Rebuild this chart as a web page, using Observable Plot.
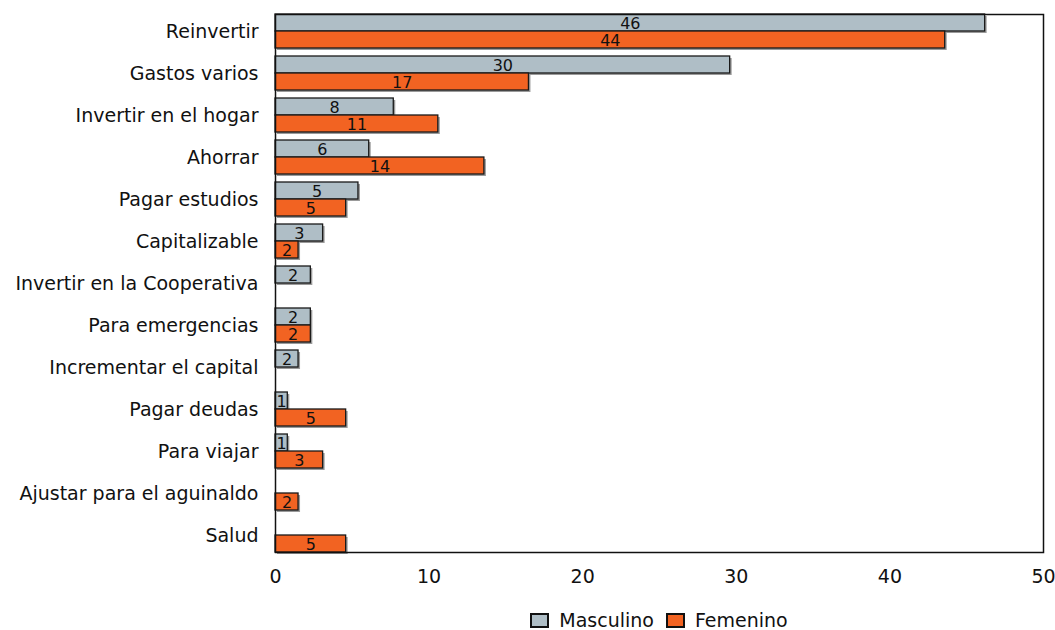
<!DOCTYPE html>
<html>
<head>
<meta charset="utf-8">
<script src="https://cdn.jsdelivr.net/npm/d3@7"></script>
<script src="https://cdn.jsdelivr.net/npm/@observablehq/plot@0.6"></script>
<style>
  body { margin: 0; background: #fff; font-family: "DejaVu Sans", sans-serif; }
  #chart svg { display: block; }
  .legend { display: flex; justify-content: center; align-items: center; margin-left: 275px; width: 768px;
            margin-top: 14px; font-size: 19px; color: #111; }
  .legend .item { display: flex; align-items: center; margin: 0 6px; }
  .legend .sw { width: 15px; height: 11px; border: 2px solid #111; margin-right: 10px; }
</style>
</head>
<body>
<div id="chart"></div>
<script>
// Destino del dinero, porcentaje por sexo
const categories = [
  "Reinvertir",
  "Gastos varios",
  "Invertir en el hogar",
  "Ahorrar",
  "Pagar estudios",
  "Capitalizable",
  "Invertir en la Cooperativa",
  "Para emergencias",
  "Incrementar el capital",
  "Pagar deudas",
  "Para viajar",
  "Ajustar para el aguinaldo",
  "Salud"
];
const masculino = [46.2, 29.6, 7.7, 6.1, 5.4, 3.1, 2.3, 2.3, 1.5, 0.8, 0.8, null, null];
const femenino  = [43.6, 16.5, 10.6, 13.6, 4.6, 1.5, null, 2.3, null, 4.6, 3.1, 1.5, 4.6];
const series = ["Masculino", "Femenino"];
const colors = ["#AFBEC6", "#F26322"];
const xTicks = [0, 10, 20, 30, 40, 50];

const rows = categories.flatMap((c, i) => [
  {categoria: c, sexo: series[0], valor: masculino[i]},
  {categoria: c, sexo: series[1], valor: femenino[i]}
]).filter(d => d.valor != null);

const fmt = d3.format(".0f");

const chart = Plot.plot({
  width: 1055,
  height: 595,
  marginTop: 6,
  marginBottom: 34,
  marginLeft: 275,
  marginRight: 12,
  style: {fontFamily: "DejaVu Sans, sans-serif", fontSize: "19px", color: "#111", background: "#fff"},
  x: {domain: [0, 50], ticks: xTicks, tickSize: 0, tickPadding: 17, label: null},
  y: {domain: series, axis: null, padding: 0},
  fy: {domain: categories, paddingInner: 0.18, insetTop: 3, insetBottom: 3, axis: "left", label: null, tickSize: 0, tickPadding: 17},
  color: {domain: series, range: colors},
  marks: [
    // sombra
    Plot.barX(rows, {x: "valor", y: "sexo", fy: "categoria", fill: "#9a9a9a", dx: 2, dy: 2}),
    Plot.barX(rows, {x: "valor", y: "sexo", fy: "categoria", fill: "sexo", stroke: "#1a1a1a", strokeWidth: 1.3}),
    Plot.text(rows, {x: d => d.valor / 2, y: "sexo", fy: "categoria", text: d => fmt(d.valor), fill: "#111", fontSize: 16, dy: 1}),
    Plot.frame({facet: "super", stroke: "#111", strokeWidth: 1.5})
  ]
});
document.getElementById("chart").appendChild(chart);

// leyenda
const legend = d3.select("body").append("div").attr("class", "legend");
series.forEach((s, i) => {
  const item = legend.append("div").attr("class", "item");
  item.append("div").attr("class", "sw").style("background", colors[i]);
  item.append("span").text(s);
});
</script>
</body>
</html>
